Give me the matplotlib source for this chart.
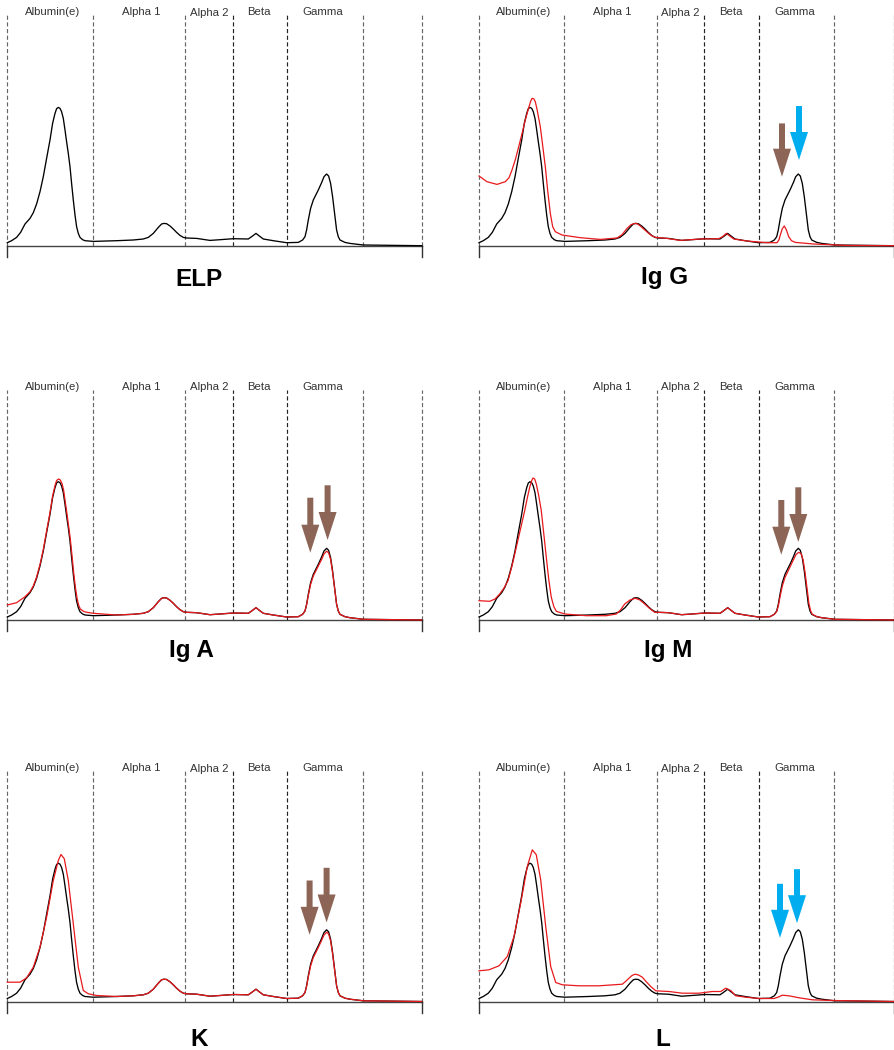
import matplotlib
matplotlib.use("Agg")
import matplotlib.pyplot as plt

plt.rcParams['font.family'] = ['Liberation Sans', 'DejaVu Sans']
plt.rcParams['lines.scale_dashes'] = False

# ---------------- data (track position, relative intensity) ----------------
fractions = ["Albumin(e)", "Alpha 1", "Alpha 2", "Beta", "Gamma"]
fraction_label_x = [45, 133.7, 201.7, 251.7, 315.3]
boundaries = [0, 85.3, 177.7, 225.3, 280, 355.3, 414.5]

panel_titles = ["ELP", "Ig G", "Ig A", "Ig M", "K", "L"]

# reference (ELP) trace - black
elp_x = [0, 4.3, 9.3, 13.3, 17.7, 22.7, 26.0, 29.3, 32.7, 36.0, 39.3, 42.7, 45.3, 47.7,
         49.3, 51.0, 52.7, 54.3, 56.0, 57.7, 59.3, 61.0, 62.7, 64.3, 66.0, 67.7, 69.3,
         71.0, 72.7, 75.3, 77.7, 86.0, 109.3, 126.0, 136.0, 141.0, 146.0, 151.0, 154.3,
         156.7, 159.3, 162.7, 166.0, 169.3, 172.7, 176.0, 179.3, 189.3, 196.0, 202.7,
         212.7, 226.0, 241.0, 244.3, 248.7, 252.0, 256.0, 266.0, 279.3, 291.0, 295.3,
         297.7, 299.3, 301.0, 303.3, 306.0, 311.0, 314.3, 316.7, 319.3, 321.3, 323.3,
         325.3, 327.3, 329.3, 331.0, 332.7, 337.7, 342.7, 356.0, 414.5]
elp_y = [3.0, 5.0, 8.3, 13.3, 21.7, 27.3, 33.0, 41.7, 54.0, 69.0, 87.3, 105.7, 122.3, 132.3,
         137.0, 138.3, 137.3, 134.0, 127.3, 115.7, 104.0, 92.3, 79.0, 62.3, 45.7, 30.7, 19.0,
         12.3, 8.3, 6.0, 5.0, 4.3, 5.0, 5.7, 6.7, 8.3, 12.3, 18.3, 21.7,
         22.3, 22.0, 19.7, 16.7, 13.3, 10.3, 8.3, 7.7, 7.3, 6.3, 5.3,
         6.0, 7.0, 6.7, 9.0, 12.3, 9.7, 6.7, 5.0, 3.0, 3.3, 5.7,
         9.0, 15.7, 25.7, 37.3, 45.7, 55.7, 63.0, 69.0, 71.7, 69.7, 62.3,
         49.0, 32.3, 15.7, 9.0, 5.7, 3.3, 2.3, 0.7, 0.0]

# immunofixation traces - red
igg_x = [0, 8, 18, 26.3, 30, 33, 36.3, 39.7, 43, 46.3, 49.7, 51.7, 53, 54.7, 56.3, 58.3,
         61.3, 63.7, 66.3, 68.7, 71.3, 73.7, 76.3, 83, 101.3, 121.3, 138, 143, 148, 152,
         155.7, 158.5, 161.3, 165.5, 169.7, 173.5, 177, 188, 201.3, 221.3, 239.7, 243.5,
         247.3, 251, 254.7, 268, 288, 298, 300, 301.3, 303.3, 305.3, 307.3, 309.7, 312.5,
         316.3, 334.7, 368, 414.5]
igg_y = [69.7, 64, 61.3, 64, 68, 75.7, 86, 99, 112, 125.7, 138, 144.5, 147.3, 147, 144, 135,
         119, 100, 79, 55, 32.3, 19, 14, 10.7, 8, 6.3, 7.7, 11, 17.3, 21,
         22.3, 21.8, 19.7, 16, 12.3, 9.5, 8.3, 7.3, 5.3, 6.7, 7, 9,
         12.3, 9.5, 6.7, 4.7, 3, 3, 6, 10.7, 17, 19.7, 16, 9, 5,
         3.3, 1.7, 0.3, 0]

iga_x = [0, 9.3, 17.7, 22.7, 26, 29.3, 32.7, 36, 39.3, 42.7, 45.3, 47.7, 49.3, 51.3, 53,
         54.7, 56.3, 58, 59.7, 61.3, 63, 64.7, 66.3, 68, 69.7, 71.3, 73, 75.7, 78, 86,
         109.3, 126, 136, 141, 146, 151, 154.3, 156.7, 159.3, 162.7, 166, 169.3, 172.7,
         176, 179.3, 189.3, 196, 202.7, 212.7, 226, 241, 244.3, 248.7, 252, 256, 266,
         279.3, 291, 295.3, 297.7, 299.3, 301, 303.3, 306, 311, 314.3, 316.7, 319.3,
         321.3, 323.3, 325.3, 327.3, 329.3, 331, 332.7, 337.7, 342.7, 356, 414.5]
iga_y = [15, 17.3, 23.3, 28.3, 34, 43, 55.5, 70.5, 89, 107.5, 124, 134.5, 139.5, 141, 140,
         136.5, 130, 118, 106, 94, 81, 64.5, 48, 33.5, 22, 15, 11, 9, 8, 6.7,
         5, 5.7, 6.7, 8.3, 12.3, 18.3, 21.7, 22.3, 22, 19.7, 16.7, 13.3, 10.3,
         8.3, 7.7, 7.3, 6.3, 5.3, 6, 7, 6.7, 9, 12.3, 9.7, 6.7, 5,
         3, 3.3, 5.7, 9, 15.2, 24.5, 35.5, 44, 54, 60.5, 66, 68.8,
         67.2, 60.5, 47.5, 31.5, 15.7, 9, 5.7, 3.3, 2.3, 0.7, 0]

igm_x = [0, 10.7, 16, 20.7, 25, 29, 33, 37.3, 41.5, 45.7, 48.3, 50.7, 52.5, 54, 55.7, 57.3,
         59.8, 62.3, 64.8, 67.3, 69.8, 72.3, 74.8, 77.3, 85.7, 107.3, 127.3, 137.3, 141.5,
         145.7, 151, 156.3, 161, 165.7, 170.7, 175.7, 179.3, 189.3, 196, 202.7, 212.7,
         226, 241, 244.3, 248.7, 252, 256, 266, 279.3, 291, 295.3, 297.7, 299.3, 301,
         303.3, 306, 311, 314.3, 317, 319.8, 322, 324, 326, 328, 330, 331.7, 333.3,
         338, 342.7, 356, 414.5]
igm_y = [19.3, 18.7, 21, 26, 32, 39.3, 54, 72.7, 91, 109.3, 122, 132.7, 139, 142, 141, 136,
         124, 109.3, 86, 62.7, 40, 22.7, 13.5, 8.7, 6, 4.3, 4.3, 6, 10,
         16, 20, 21.7, 20, 16, 11.5, 7.7, 7.7, 7.3, 6.3, 5.3, 6,
         7, 6.7, 9, 12.3, 9.7, 6.7, 5, 3, 3.3, 5.7, 8.5, 14, 23,
         34, 42.5, 53, 60, 65.5, 67.7, 66.5, 60.5, 48, 32, 16, 9, 5.7,
         3.3, 2.3, 0.7, 0]

k_x = [0, 12.7, 19.3, 26, 32.7, 39.3, 46, 51, 53.7, 57, 61, 66, 71, 76, 81, 89.3, 109.3,
       126, 136, 141, 146, 151, 154.3, 156.7, 159.3, 162.7, 166, 169.3, 172.7, 176, 179.3,
       189.3, 196, 202.7, 212.7, 226, 241, 244.3, 248.7, 252, 256, 266, 279.3, 291, 295.3,
       297.7, 299.3, 301, 303.3, 306, 311, 314.3, 316.7, 319.3, 321.3, 323.3, 325.3,
       327.3, 329.3, 331, 332.7, 337.7, 342.7, 356, 414.5]
k_y = [19.3, 19.3, 23.7, 34.3, 54.3, 84.3, 121, 141, 147, 142.7, 121, 77.7, 34.3, 11, 7.7, 6,
       5, 5.7, 6.7, 8.3, 12.3, 18.3, 21.7, 22.3, 22, 19.7, 16.7, 13.3, 10.3, 8.3, 7.7,
       7.3, 6.3, 5.3, 6, 7, 6.7, 9, 12.3, 9.7, 6.7, 5, 3, 3.3, 5.7,
       9, 15.2, 24.5, 35.5, 44, 54, 61, 66.5, 69.3, 67.5, 60.5, 47.5,
       31.5, 15.7, 9, 5.7, 3.3, 2.3, 0.7, 0]

l_x = [0, 10, 20, 28.3, 35, 41.7, 48.3, 53.3, 57.3, 61.7, 66.7, 71.7, 76.7, 83.3, 100, 120,
       143.3, 146.5, 150, 153, 156, 159.5, 163.3, 167.5, 171.7, 176.7, 190, 203.3, 220,
       233.3, 241.7, 246.7, 251.7, 256.7, 266.7, 280, 295, 299, 303.3, 310, 320, 333.3,
       353.3, 414.5]
l_y = [30.7, 31.7, 35.7, 45, 65, 98.3, 135, 151.7, 146.7, 121.7, 75, 35, 19, 16.7, 15.7, 15.7,
       17.3, 20, 23.3, 26, 27.3, 26.5, 24.3, 19.5, 15, 10.7, 10, 8.3, 8.3,
       10, 10, 13.3, 11, 5.7, 4.3, 3, 3, 4.3, 6.3, 5.7, 3.7, 1.7,
       1, 0]

red_x = [None, igg_x, iga_x, igm_x, k_x, l_x]
red_y = [None, igg_y, iga_y, igm_y, k_y, l_y]

# arrows: (x, top, tip, colour) per panel
BROWN = "#8c6556"
BLUE = "#00aeef"
arrow_x = [[], [303, 320], [303, 320.3], [302.3, 319.3], [302.3, 319.3], [301, 318]]
arrow_top = [[], [122.3, 139.7], [122.3, 134.7], [120, 132.7], [121, 133.7], [117.7, 132.3]]
arrow_tip = [[], [69, 85.7], [67.3, 80], [65.3, 78], [66.7, 79], [63.7, 78.3]]
arrow_col = [[], [BROWN, BLUE], [BROWN, BROWN], [BROWN, BROWN], [BROWN, BROWN], [BLUE, BLUE]]

title_x = [191.7, 185.3, 183.7, 188.7, 191.7, 184]
title_y = [-40, -38, -37, -37, -45, -45]

# ---------------- layout (pixels) ----------------
W, H = 894, 1050
col_origin = [7.3, 479]
row_baseline = [245.7, 620, 1001.5]
YTOP, YBOT = 240, -50
PANEL_W = 414.5

fig = plt.figure(figsize=(W / 100, H / 100), dpi=100)
fig.patch.set_facecolor("white")

for i, title in enumerate(panel_titles):
    r, c = divmod(i, 2)
    ox = col_origin[c]
    bl = row_baseline[r]
    left = ox / W
    bottom = (H - (bl - YBOT)) / H
    ax = fig.add_axes([left, bottom, PANEL_W / W, (YTOP - YBOT) / H])
    ax.set_xlim(0, PANEL_W)
    ax.set_ylim(YBOT, YTOP)
    ax.axis("off")

    # fraction boundaries
    for j, bx in enumerate(boundaries):
        col = "#222222" if j in (3, 4) else "#666666"
        ax.plot([bx, bx], [0, 230.5], color=col, lw=0.85, dashes=(3, 1.8),
                clip_on=False, zorder=1)
    for lab, lx in zip(fractions, fraction_label_x):
        ax.text(lx, 230.5 if lab != "Alpha 2" else 229.5, lab, ha="center", va="baseline",
                fontsize=8.2, color="#333333", clip_on=False)

    # baseline and end ticks
    ax.plot([0, PANEL_W], [0, 0], color="#444444", lw=1.0, clip_on=False, zorder=2)
    for bx in (0, PANEL_W):
        ax.plot([bx, bx], [0, -11], color="#333333", lw=1.0, clip_on=False, zorder=2)

    # traces
    ax.plot(elp_x, elp_y, color="black", lw=0.95, clip_on=False, zorder=3,
            solid_joinstyle="round")
    if red_x[i] is not None:
        ax.plot(red_x[i], red_y[i], color="#e8191c", lw=0.9, clip_on=False, zorder=4,
                solid_joinstyle="round")

    # arrows
    for ax_x, top, tip, colr in zip(arrow_x[i], arrow_top[i], arrow_tip[i], arrow_col[i]):
        ax.arrow(ax_x, top, 0, tip - top, width=6, head_width=18, head_length=28,
                 length_includes_head=True, color=colr, lw=0, zorder=5)

    ax.text(title_x[i], title_y[i], title, ha="center", va="baseline", fontsize=17.5,
            fontweight="bold", color="black", clip_on=False)

fig.savefig("out.png", dpi=100, facecolor="white")
